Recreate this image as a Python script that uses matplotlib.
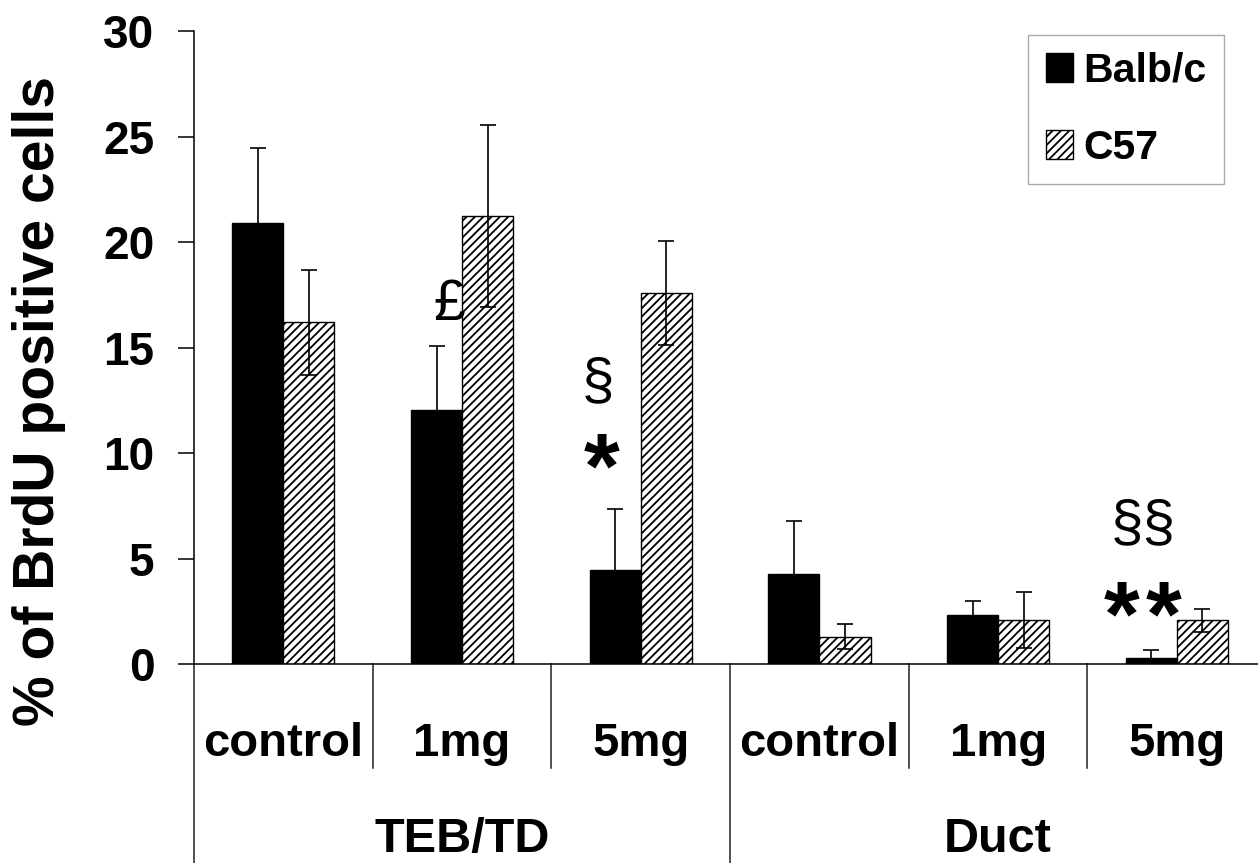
import numpy as np
import matplotlib
matplotlib.use("Agg")
import matplotlib.pyplot as plt
from matplotlib.patches import Patch

plt.rcParams['font.family'] = ['Liberation Sans', 'DejaVu Sans']
plt.rcParams['hatch.linewidth'] = 1.3

# dados
doses = ['control', '1mg', '5mg', 'control', '1mg', '5mg']
tecidos = ['TEB/TD', 'Duct']
balb = [20.9, 12.05, 4.45, 4.27, 2.31, 0.30]
balb_err = [3.55, 3.05, 2.88, 2.49, 0.66, 0.38]
c57 = [16.2, 21.25, 17.6, 1.30, 2.07, 2.07]
c57_err = [2.5, 4.3, 2.45, 0.58, 1.33, 0.55]

# marcas de significancia: texto, posicao x (categoria), y
marcas_txt = ['£', '§', '*', '§§', '*', '*']
marcas_x = [1.427, 2.263, 2.283, 5.31, 5.19, 5.425]
marcas_y = [17.3, 13.3, 9.9, 6.6, 2.9, 2.9]

W, H = 1258, 863
fig = plt.figure(figsize=(W / 100, H / 100), dpi=100)
x0, y0, y1 = 194, 664, 31.4
largura_cat = 178.7
ax = fig.add_axes([x0 / W, 1 - y0 / H, 6 * largura_cat / W, (y0 - y1) / H])

x = np.arange(6) + 0.5
w = 1 / 3.5
err_kw = dict(ecolor='black', elinewidth=1.2, capsize=5.5, capthick=1.2)
ax.bar(x - w / 2, balb, w, yerr=balb_err, color='black', edgecolor='black',
       linewidth=1, error_kw=err_kw, label='Balb/c', zorder=2)
ax.bar(x + w / 2, c57, w, yerr=c57_err, color='white', edgecolor='black',
       hatch='////', linewidth=1, error_kw=err_kw, label='C57', zorder=2)

ax.set_xlim(0, 6)
ax.set_ylim(0, 30)
ax.set_yticks(np.arange(0, 31, 5))
ax.tick_params(axis='y', direction='out', length=11.5, width=1.1, pad=17,
               labelsize=33)
for lbl in ax.get_yticklabels():
    lbl.set_fontweight('bold')
ax.set_xticks([])
for s in ['top', 'right']:
    ax.spines[s].set_visible(False)
ax.spines['left'].set_linewidth(1.1)
ax.spines['bottom'].set_linewidth(1.1)

# eixo de categorias em dois niveis
trans = ax.get_xaxis_transform()
alt = y0 - y1
fim_curto = -(768 - y0) / alt
fim_longo = -(H - y0) / alt
for i in range(7):
    fim = fim_longo if i in (0, 3, 6) else fim_curto
    ax.plot([i, i], [0, fim], color='#222222', lw=1.1, transform=trans,
            clip_on=False)
for i, d in enumerate(doses):
    ax.text(i + 0.5, -(756 - y0) / alt, d, transform=trans, ha='center',
            va='baseline', fontsize=34, fontweight='bold')
for j, t in enumerate(tecidos):
    ax.text(3 * j + 1.5, -(852 - y0) / alt, t, transform=trans, ha='center',
            va='baseline', fontsize=35, fontweight='bold')

# marcas
for t, mx, my in zip(marcas_txt, marcas_x, marcas_y):
    if t == '*':
        ax.annotate(t, (mx, my), xytext=(0, -0.46 * 66), textcoords='offset points',
                    ha='center', va='baseline', fontsize=66, fontweight='bold')
    elif t == '£':
        ax.annotate(t, (mx, my), xytext=(0, -0.36 * 41), textcoords='offset points',
                    ha='center', va='baseline', fontsize=41)
    else:
        ax.annotate(t, (mx, my), xytext=(0, -0.26 * 42), textcoords='offset points',
                    ha='center', va='baseline', fontsize=42)

fig.text(39 / W, 1 - 401 / H, '% of BrdU positive cells', rotation=90,
         ha='center', va='center', fontsize=41, fontweight='bold')

handles = [Patch(facecolor='black', edgecolor='black', label='Balb/c'),
           Patch(facecolor='white', edgecolor='black', hatch='////', label='C57')]
leg = fig.legend(handles=handles, loc='upper right',
                 bbox_to_anchor=(1224 / W, 1 - 34.7 / H), frameon=True,
                 fancybox=False, edgecolor='#aaaaaa', framealpha=1,
                 prop=dict(size=29.5, weight='bold'), handlelength=0.68,
                 handleheight=0.68, handletextpad=0.25, labelspacing=0.95,
                 borderpad=0.42, borderaxespad=0)
leg.get_frame().set_linewidth(1.0)

fig.savefig('out.png', dpi=100)
